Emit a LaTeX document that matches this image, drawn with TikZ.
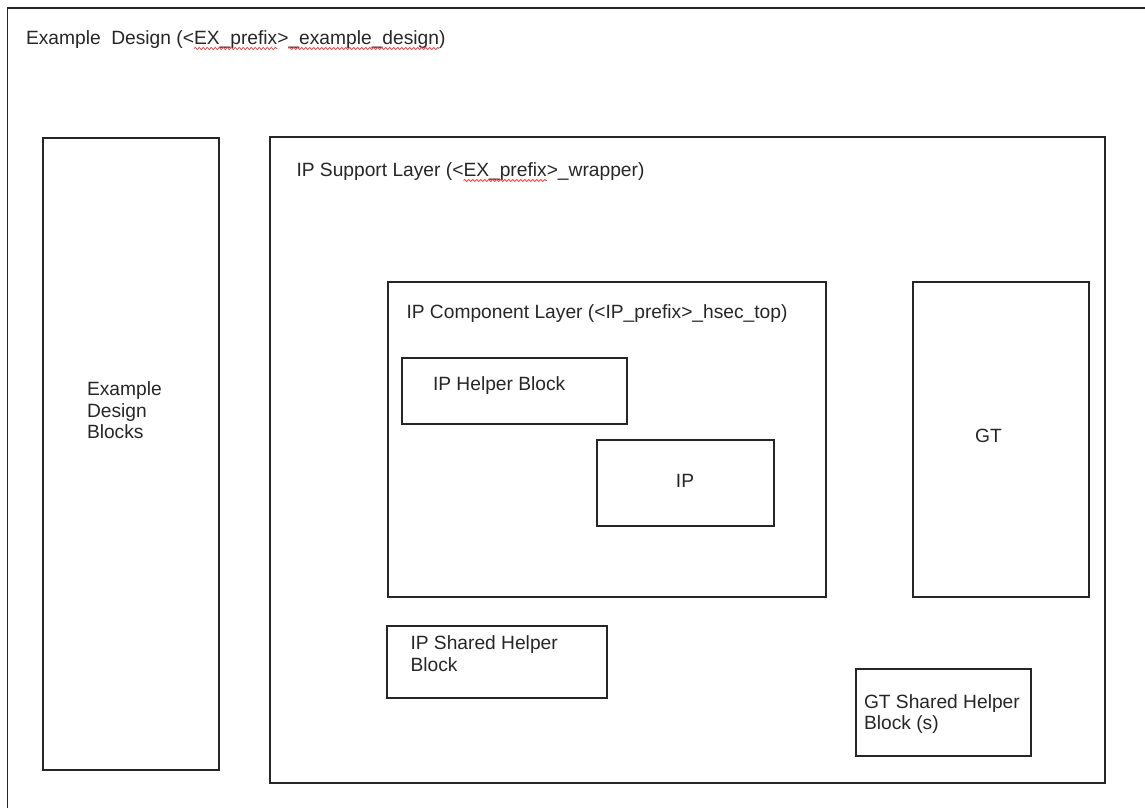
\documentclass[tikz,border=0pt]{standalone}
\usepackage{fontspec}
\setmainfont{Liberation Sans}
\usetikzlibrary{decorations.pathmorphing}

\tikzset{
  box/.style={draw=black!85, line width=1.3pt, rectangle, inner sep=0pt, outer sep=0pt, anchor=north west},
  lbl/.style={inner sep=0pt, outer sep=0pt, anchor=base west, text=black!85,
              font=\fontsize{19.2}{21.5}\selectfont},
  mlbl/.style={lbl, anchor=north west, align=left},
  squiggle/.style={draw=red!75, line width=0.8pt,
                   decorate, decoration={snake, amplitude=1.1pt, segment length=4pt}}
}

\begin{document}
\begin{tikzpicture}[x=1pt, y=-1pt]
  \useasboundingbox (0,0) rectangle (1145,807);

  % outer frame of the example design (runs off the page at right and bottom)
  \coordinate (frameTR) at (1150,8);
  \coordinate (frameTL) at (7.5,8);
  \coordinate (frameBL) at (7.5,812);
  \draw[black!85, line width=1.3pt] (frameTR) -- (frameTL) -- (frameBL);

  % title with spell-check marks
  \node[lbl] (t1) at (26,44) {Example\ \ Design (<};
  \node[lbl] (t2) at (t1.base east) {EX\_prefix};
  \node[lbl] (t3) at (t2.base east) {>};
  \node[lbl] (t4) at (t3.base east) {\_example\_design};
  \node[lbl] (t5) at (t4.base east) {)};
  \draw[squiggle] ([yshift=-4.5pt]t2.base west) -- ([yshift=-4.5pt]t2.base east);
  \draw[squiggle] ([yshift=-4.5pt]t4.base west) -- ([yshift=-4.5pt]t4.base east);

  % example design blocks
  \node[box, minimum width=176pt, minimum height=632pt] (edb) at (43,138) {};
  \node[mlbl] (edbl) at (87,382) {Example\\Design\\Blocks};

  % IP support layer
  \node[box, minimum width=835pt, minimum height=646pt] (sup) at (270,137) {};
  \node[lbl] (s1) at (296.5,176) {IP Support Layer (<};
  \node[lbl] (s2) at (s1.base east) {EX\_prefix};
  \node[lbl] (s3) at (s2.base east) {>\_wrapper)};
  \draw[squiggle] ([yshift=-4.5pt]s2.base west) -- ([yshift=-4.5pt]s2.base east);

  % IP component layer
  \node[box, minimum width=438pt, minimum height=315pt] (comp) at (388,282) {};
  \node[lbl] (compl) at (406.5,318) {IP Component Layer (<IP\_prefix>\_hsec\_top)};

  \node[box, minimum width=225pt, minimum height=66pt] (helper) at (402,358) {};
  \node[lbl] (helperl) at (433,390) {IP Helper Block};

  \node[box, minimum width=177pt, minimum height=86pt] (ip) at (597,440) {};
  \node[lbl, anchor=base] (ipl) at (685,487) {IP};

  % GT
  \node[box, minimum width=176pt, minimum height=315pt] (gt) at (913,282) {};
  \node[lbl, anchor=base] (gtl) at (988.5,442) {GT};

  % shared helper blocks
  \node[box, minimum width=220pt, minimum height=72pt] (ipsh) at (387,626) {};
  \node[mlbl] (ipshl) at (410.5,636) {IP Shared Helper\\Block};

  \node[box, minimum width=175pt, minimum height=87pt] (gtsh) at (856,669) {};
  \node[mlbl] (gtshl) at (864,694.5) {GT Shared Helper\\Block (s)};
\end{tikzpicture}
\end{document}
